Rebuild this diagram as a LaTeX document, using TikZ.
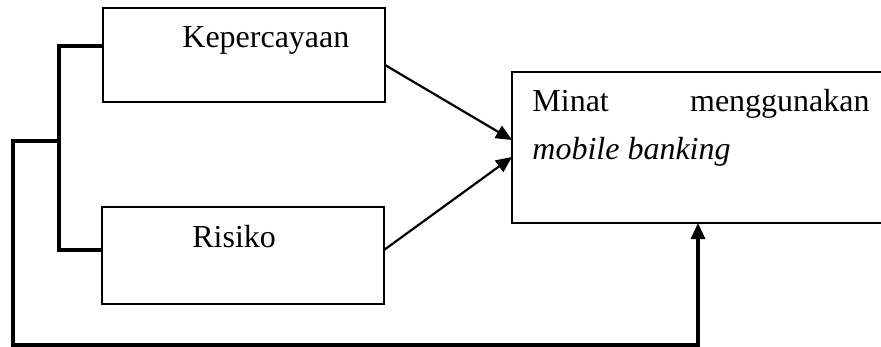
\documentclass[tikz,border=0pt]{standalone}
\usepackage{fontspec}
\setmainfont{Liberation Serif}
\usetikzlibrary{arrows.meta}
\begin{document}
\begin{tikzpicture}[x=0.5pt,y=-0.5pt,
  box/.style={draw,line width=0.75pt,inner sep=0pt,outer sep=0pt},
  lbl/.style={anchor=base west,inner sep=0pt,font=\fontsize{16pt}{18pt}\selectfont},
  link/.style={line width=1.1pt,-{Triangle[length=8pt,width=7pt]}},
  frame/.style={line width=1.6pt}]
\useasboundingbox (0,0) rectangle (881,347);
\node[box,minimum width=141pt,minimum height=47pt] (k) at (244,55) {};
\node[box,minimum width=141pt,minimum height=48.5pt] (r) at (243,255.5) {};
\node[box,minimum width=194pt,minimum height=75.5pt] (m) at (706,147.5) {};
\node[lbl] (kt) at (182,48) {Kepercayaan};
\node[lbl] (rt) at (192,247) {Risiko};
\node[lbl] (mt1) at (532,112) {Minat};
\node[lbl,anchor=base east] (mt2) at (870,112) {menggunakan};
\node[lbl] (mt3) at (532,160) {\itshape mobile banking};
\coordinate (b1) at (59,46);
\coordinate (b2) at (59,250);
\coordinate (bm) at (59,141);
\coordinate (c1) at (13,141);
\coordinate (c2) at (13,345);
\coordinate (c3) at (698,345);
\draw[frame] (k.west |- b1) -- (b1) -- (b2) -- (r.west |- b2);
\draw[frame,-{Triangle[length=8pt,width=7pt]}] (bm) -- (c1) -- (c2) -- (c3) -- (c3 |- m.south);
\draw[link] ([yshift=-5pt]k.east) -- ([yshift=3.75pt]m.west);
\draw[link] ([yshift=2.75pt]r.east) -- ([yshift=-4.75pt]m.west);
\end{tikzpicture}
\end{document}
